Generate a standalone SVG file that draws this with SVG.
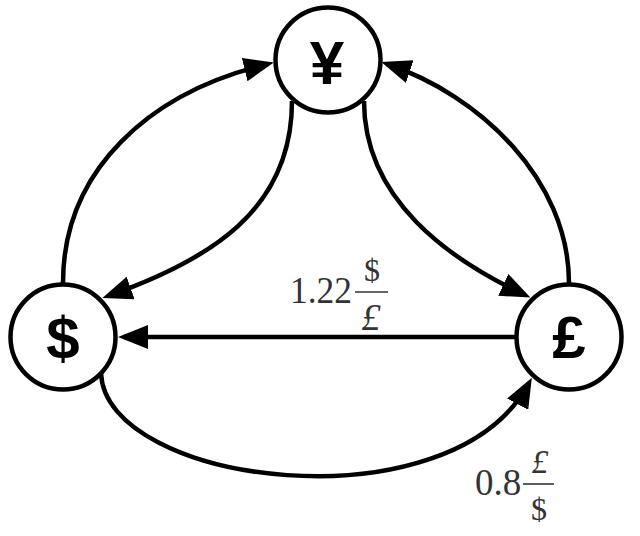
<svg xmlns="http://www.w3.org/2000/svg" width="640" height="536" viewBox="0 0 640 536">
<style>
.node circle{fill:#fff;stroke:#000;stroke-width:4.5}
.sym{font-family:"Liberation Sans",Arial,sans-serif;font-weight:bold;text-anchor:middle;fill:#000}
.edge{fill:none;stroke:#000;stroke-width:4.5;marker-end:url(#arr)}
.lbl{font-family:"Liberation Serif","Times New Roman",serif;fill:#333}
.bar{stroke:#333;stroke-width:1.6}
</style>
<defs>
<marker id="arr" markerUnits="userSpaceOnUse" markerWidth="30" markerHeight="24" viewBox="0 0 30 24" refX="24" refY="12" orient="auto">
<path d="M0,0 L30,12 L0,24 z" fill="#000"/>
</marker>
</defs>
<g id="connectors">
<path class="edge" d="M 63 283 C 63 170, 150 92, 268 64"/>
<path class="edge" d="M 569 283 C 569 180, 480 95, 387 64"/>
<path class="edge" d="M 292 101 C 292 210, 210 260, 108 296"/>
<path class="edge" d="M 364 101 C 364 200, 450 260, 525 295"/>
<path class="edge" d="M 515 337 L 124 337"/>
<path class="edge" d="M 101 373 C 105 485, 450 530, 529 383"/>
</g>
<g id="node-yen" class="node">
<circle cx="328" cy="60" r="52.5"/>
<text class="sym" x="327" y="84" font-size="62">¥</text>
</g>
<g id="node-dollar" class="node">
<circle cx="63" cy="337" r="52.5"/>
<text class="sym" x="63" y="359" font-size="60">$</text>
</g>
<g id="node-pound" class="node">
<circle cx="569" cy="337" r="52.5"/>
<text class="sym" x="569" y="358" font-size="60">£</text>
</g>
<g id="label-1">
<text class="lbl" x="290" y="303" font-size="37" textLength="62" lengthAdjust="spacingAndGlyphs">1.22</text>
<text class="lbl" x="372" y="281" font-size="32" text-anchor="middle">$</text>
<line class="bar" x1="355" y1="292" x2="388" y2="292"/>
<text class="lbl" x="371" y="330" font-size="38" font-style="italic" text-anchor="middle">£</text>
</g>
<g id="label-2">
<text class="lbl" x="475" y="495" font-size="37">0.8</text>
<text class="lbl" x="540" y="473" font-size="33" font-style="italic" text-anchor="middle">£</text>
<line class="bar" x1="523" y1="484" x2="554" y2="484"/>
<text class="lbl" x="539" y="520" font-size="32" text-anchor="middle">$</text>
</g>
</svg>
